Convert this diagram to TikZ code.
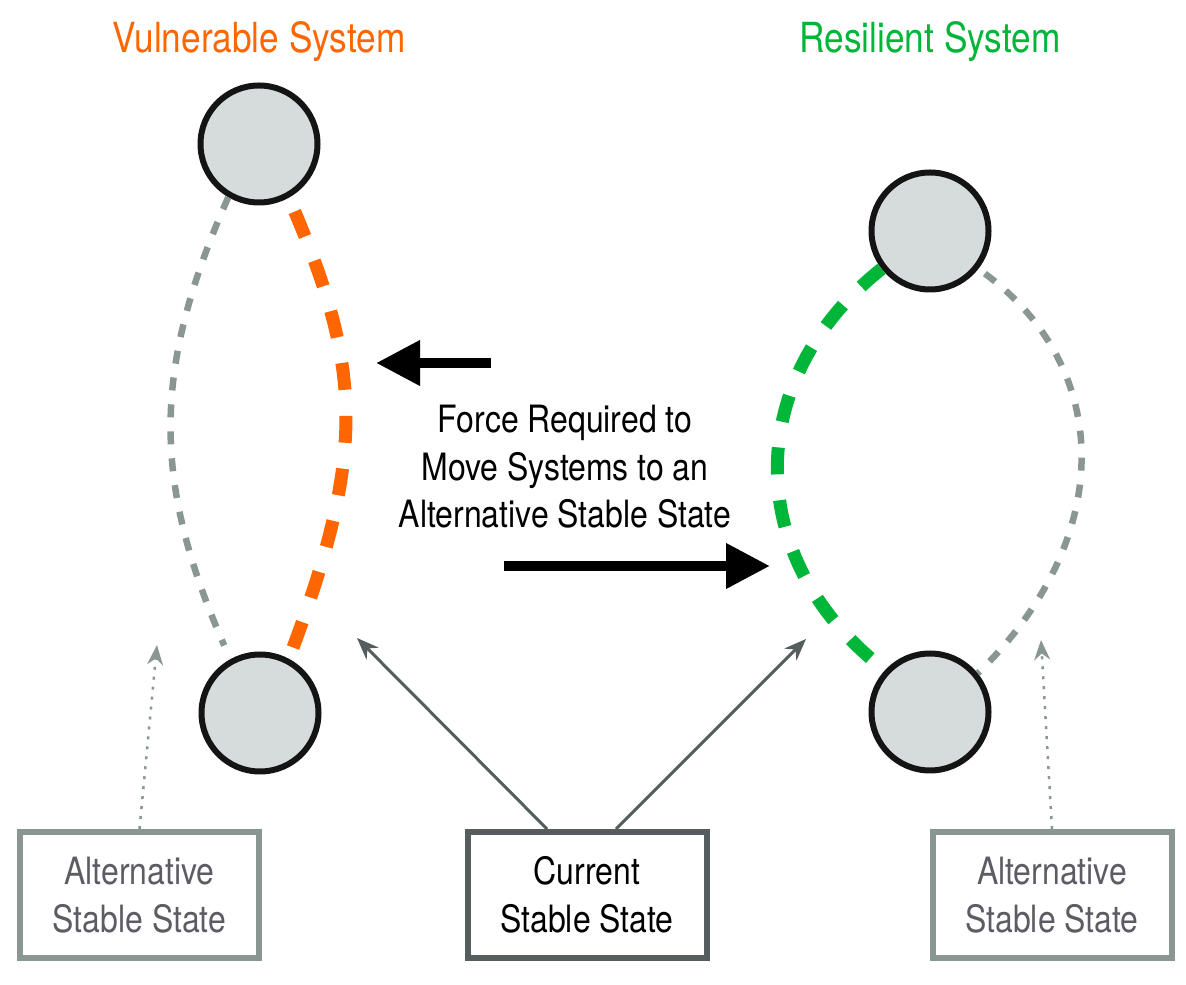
\documentclass[tikz,border=0pt]{standalone}
\usepackage{fontspec}
\setmainfont{TeX Gyre Heros}[FakeStretch=0.85]
\usetikzlibrary{arrows.meta}

\definecolor{vulnorange}{RGB}{255,102,0}
\definecolor{resgreen}{RGB}{0,182,56}
\definecolor{lightline}{RGB}{138,150,146}
\definecolor{darkline}{RGB}{85,93,94}
\definecolor{statefill}{RGB}{214,219,219}
\definecolor{alttext}{RGB}{92,92,100}

\begin{document}
\begin{tikzpicture}
            \useasboundingbox (0,0) rectangle (11.86,9.84);
            {
                \tikzset{every node/.style = {shape=circle, draw=black!92, fill=statefill, line width=0.06cm, minimum size=1.17cm, inner sep=0pt}}

                \node (vt) at (2.59, 8.40) {};
                \node (vb) at (2.60, 2.71) {};
                \node (rt) at (9.30, 7.53) {};
                \node (rb) at (9.30, 2.72) {};
            }

            \tikzset{statebox/.style = {rectangle, draw, line width=0.06cm, minimum width=2.39cm, minimum height=1.26cm, align=center, font=\fontsize{10.7}{13.5}\selectfont},
                     title/.style = {anchor=base, font=\fontsize{11.8}{14}\selectfont},
                     orangedash/.style = {draw=vulnorange, line width=0.13cm, dash pattern=on 0.27cm off 0.26cm},
                     greendash/.style = {draw=resgreen, line width=0.13cm, dash pattern=on 0.27cm off 0.26cm},
                     greydash/.style = {draw=lightline, line width=0.065cm, dash pattern=on 0.13cm off 0.14cm},
                     bigarrow/.style = {line width=0.1cm, -{Triangle[length=0.44cm, width=0.43cm]}},
                     thinarrow/.style = {draw=darkline, line width=0.03cm, -{Stealth[length=0.22cm, width=0.17cm]}},
                     dotarrow/.style = {draw=lightline, line width=0.025cm, dash pattern=on 0.03cm off 0.07cm, -{Stealth[length=0.2cm, width=0.16cm]}}}

            \node[title, text=vulnorange] (vtitle) at (2.59, 9.31) {Vulnerable System};
            \node[title, text=resgreen] (rtitle) at (9.30, 9.31) {Resilient System};

            \node[statebox, draw=lightline, text=alttext] (alt1) at (1.395, 0.89) {Alternative\\Stable State};
            \node[statebox, draw=darkline] (cur) at (5.87, 0.89) {Current\\Stable State};
            \node[statebox, draw=lightline, text=alttext] (alt2) at (10.52, 0.89) {Alternative\\Stable State};

            \node[align=center, font=\fontsize{10.7}{13.5}\selectfont] (force) at (5.65, 5.17) {Force Required to\\Move Systems to an\\Alternative Stable State};

            \coordinate (lefttail) at (4.91, 6.21);
            \coordinate (lefthead) at (3.76, 6.21);
            \coordinate (righttail) at (5.04, 4.18);
            \coordinate (righthead) at (7.70, 4.18);
            \coordinate (tipl) at (3.57, 3.46);
            \coordinate (tipr) at (8.06, 3.45);
            \coordinate (dot1) at (1.57, 3.39);
            \coordinate (dot2) at (10.41, 3.44);

            % landscape paths between the states
            \draw[greydash, shorten >=0.15cm] (vt.-120) .. controls (1.52, 6.14) and (1.52, 5.04) .. (vb.119);
            \draw[orangedash, shorten <=0.15cm] (vt.-61) .. controls (3.64, 6.10) and (3.64, 5.24) .. (vb.62);
            \draw[greendash] (rt.-142) .. controls (7.42, 6.04) and (7.42, 4.24) .. (rb.137);
            \draw[greydash, shorten <=0.08cm] (rt.-38) .. controls (11.15, 6.14) and (11.15, 4.44) .. (rb.39);

            \draw[bigarrow] (lefttail) -- (lefthead);
            \draw[bigarrow] (righttail) -- (righthead);

            \draw[thinarrow] ([xshift=-0.40cm]cur.north) -- (tipl);
            \draw[thinarrow] ([xshift=0.29cm]cur.north) -- (tipr);
            \draw[dotarrow] (alt1.north) -- (dot1);
            \draw[dotarrow] (alt2.north) -- (dot2);

\end{tikzpicture}
\end{document}
